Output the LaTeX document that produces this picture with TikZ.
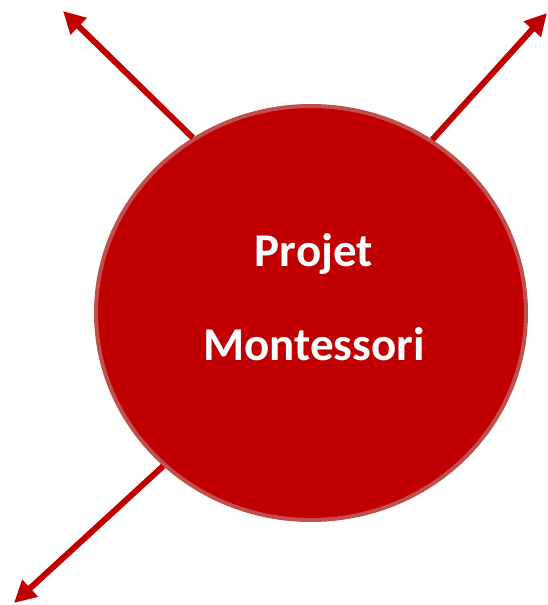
\documentclass[tikz,border=0pt]{standalone}
\usepackage{fontspec}
\setmainfont{Carlito}
\usetikzlibrary{arrows.meta,shapes.geometric}
\definecolor{rouge}{RGB}{192,0,0}
\definecolor{bord}{RGB}{192,80,77}
\begin{document}
\begin{tikzpicture}[x=1pt,y=1pt,
    bulle/.style={ellipse,fill=rouge,draw=bord,line width=4pt,minimum width=430,minimum height=414,inner sep=0pt},
    titre/.style={text=white,font=\fontsize{47}{94}\selectfont\bfseries,align=center},
    fleche/.style={rouge,line width=6pt,-{Triangle[length=22pt,width=22pt]}}]
    \useasboundingbox (0,0) rectangle (547,605);
    \node[bulle] (projet) at (311,292) {};
    \node[titre] (nom) at ([xshift=3pt,yshift=16pt]projet.center) {Projet\\Montessori};
    % bouts libres des flèches
    \path
      coordinate (hg) at (63,594)
      coordinate (hd) at (547,592)
      coordinate (bg) at (14,2);
    \draw[fleche](projet.124)--(hg);
    \draw[fleche](projet.55)--(hd);
    \draw[fleche](projet.226)--(bg);
\end{tikzpicture}
\end{document}
